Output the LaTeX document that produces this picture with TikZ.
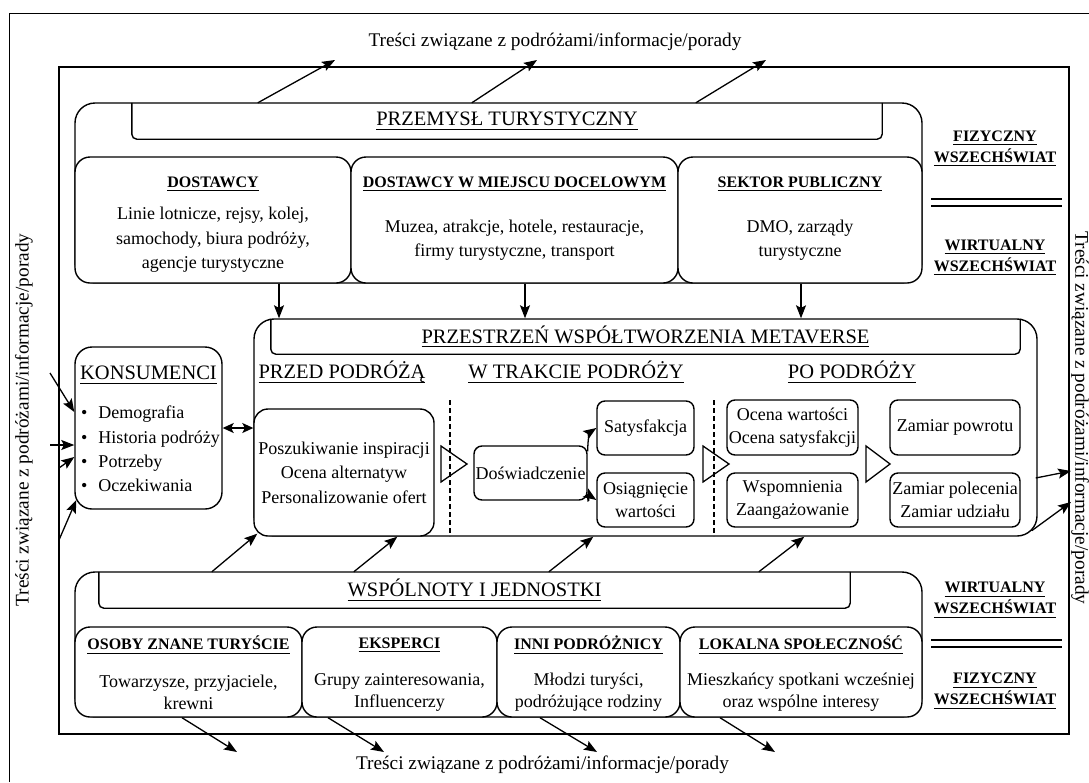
\documentclass[tikz,border=0pt]{standalone}
\usepackage{fontspec}
\setmainfont{Liberation Serif}
\usetikzlibrary{arrows.meta,positioning,calc}
\definecolor{MVInk}{HTML}{000000}
\newcommand{\undl}[1]{\leavevmode\setbox0=\hbox{#1}\rlap{\rule[-4.2pt]{\wd0}{1.3pt}}\box0}
\tikzset{
  flow/.style={-{Stealth[length=13pt,width=10pt,inset=2.5pt]},MVInk,line width=1.3pt},
  flowboth/.style={{Stealth[length=11pt,width=10pt,inset=2.5pt]}-{Stealth[length=11pt,width=10pt,inset=2.5pt]},MVInk,line width=1.3pt},
  frame/.style={draw=MVInk,line width=1.4pt},
  group/.style={draw=MVInk,line width=1.4pt,fill=white,rounded corners=20pt,inner sep=0pt},
  card/.style={draw=MVInk,line width=1.4pt,fill=white,rounded corners=15pt,inner sep=0pt},
  cell/.style={draw=MVInk,line width=1.4pt,fill=white,rounded corners=8pt,inner sep=0pt,align=center,
               font=\fontsize{18}{22.5}\selectfont},
  bar/.style={draw=MVInk,line width=1.4pt,rounded corners=5pt},
  head/.style={inner sep=0pt,font=\fontsize{20.5}{24}\selectfont},
  subhead/.style={inner sep=0pt,font=\fontsize{16}{21}\selectfont\bfseries,align=center},
  copy/.style={inner sep=0pt,font=\fontsize{18}{24.5}\selectfont,align=center},
  note/.style={inner sep=0pt,font=\fontsize{19.3}{23}\selectfont},
  divider/.style={draw=MVInk,line width=1.2pt,dash pattern=on 5pt off 3pt},
  stage/.style={draw=MVInk,line width=1.3pt,line join=miter},
  twin/.style={draw=MVInk,line width=1.3pt},
}

\begin{document}
\begin{tikzpicture}[x=1pt,y=-1pt]
  \useasboundingbox (0,0) rectangle (1089,782);
  \fill[white] (0,0) rectangle (1089,782);
  \draw[frame] (9.5,782) |- (1089,13.5);
  \draw[frame] (59,67) rectangle (1069,734);

  % notes round the frame
  \node[note] (topnote) at (555,42) {Treści związane z podróżami/informacje/porady};
  \node[note] (botnote) at (542.5,765) {Treści związane z podróżami/informacje/porady};
  \node[note,rotate=90] (leftnote) at (24,420) {Treści związane z podróżami/informacje/porady};
  \node[note,rotate=-90] (rightnote) at (1080,418) {Treści związane z podróżami/informacje/porady};

  % tourism industry
  \node[group,minimum width=847pt,minimum height=180pt] (industry) at (498.5,193) {};
  \node[head,minimum width=750pt,minimum height=36pt] (indbar) at (507,121) {\undl{PRZEMYSŁ TURYSTYCZNY}};
  \draw[bar] (indbar.north west) -- (indbar.south west) -- (indbar.south east) -- (indbar.north east);
  \node[card,minimum width=276pt,minimum height=126pt] (dost) at (213,220) {};
  \node[card,minimum width=327pt,minimum height=126pt] (dmd) at (514.5,220) {};
  \node[card,minimum width=244pt,minimum height=126pt] (publ) at (800,220) {};
  \node[subhead] (dosthead) at (213,184) {\undl{DOSTAWCY}};
  \node[copy] (dostcopy) at (213,240) {Linie lotnicze, rejsy, kolej,\\samochody, biura podróży,\\agencje turystyczne};
  \node[subhead] (dmdhead) at (514.5,184) {\undl{DOSTAWCY W MIEJSCU DOCELOWYM}};
  \node[copy] (dmdcopy) at (514.5,240) {Muzea, atrakcje, hotele, restauracje,\\firmy turystyczne, transport};
  \node[subhead] (publhead) at (800,184) {\undl{SEKTOR PUBLICZNY}};
  \node[copy] (publcopy) at (800,240) {DMO, zarządy\\turystyczne};

  % universe labels
  \node[subhead] (phys1) at (995,148.5) {\undl{FIZYCZNY}\\\undl{WSZECHŚWIAT}};
  \draw[twin] (931,199) -- (1062,199);
  \draw[twin] (931,206) -- (1062,206);
  \node[subhead] (virt1) at (995,257.5) {\undl{WIRTUALNY}\\\undl{WSZECHŚWIAT}};
  \node[subhead] (virt2) at (995,600) {\undl{WIRTUALNY}\\\undl{WSZECHŚWIAT}};
  \draw[twin] (931,640) -- (1062,640);
  \draw[twin] (931,647) -- (1062,647);
  \node[subhead] (phys2) at (995,691) {\undl{FIZYCZNY}\\\undl{WSZECHŚWIAT}};

  % metaverse co-creation space
  \node[group,minimum width=783pt,minimum height=217pt] (meta) at (645.5,427.5) {};
  \node[head,minimum width=749pt,minimum height=35pt] (metabar) at (645.5,336.5) {\undl{PRZESTRZEŃ WSPÓŁTWORZENIA METAVERSE}};
  \draw[bar] (metabar.north west) -- (metabar.south west) -- (metabar.south east) -- (metabar.north east);
  \node[head] (before) at (342,372) {\undl{PRZED PODRÓŻĄ}};
  \node[head] (during) at (576,372) {\undl{W TRAKCIE PODRÓŻY}};
  \node[head] (after) at (852,372) {\undl{PO PODRÓŻY}};
  \draw[divider] (450,400) -- (450,536);
  \draw[divider] (714,400) -- (714,536);
  \node[card,rounded corners=14pt,minimum width=180pt,minimum height=127pt,align=center,
        font=\fontsize{18}{24.5}\selectfont] (search) at (344,472.5)
        {Poszukiwanie inspiracji\\Ocena alternatyw\\Personalizowanie ofert};
  \node[cell,minimum width=113pt,minimum height=54pt] (dosw) at (530.5,473) {Doświadczenie};
  \node[cell,minimum width=97pt,minimum height=54pt] (satys) at (645.5,428) {Satysfakcja};
  \node[cell,minimum width=97pt,minimum height=54pt] (osiag) at (645.5,500) {Osiągnięcie\\wartości};
  \node[cell,minimum width=131pt,minimum height=55pt] (ocena) at (792.5,427.5) {Ocena wartości\\Ocena satysfakcji};
  \node[cell,minimum width=131pt,minimum height=54pt] (wspom) at (792.5,500) {Wspomnienia\\Zaangażowanie};
  \node[cell,minimum width=130pt,minimum height=55pt] (powrot) at (955,427.5) {Zamiar powrotu};
  \node[cell,minimum width=130pt,minimum height=54pt] (polec) at (955,500) {Zamiar polecenia\\Zamiar udziału};
  \draw[stage] (441,446) -- (467,464) -- (441,482) -- cycle;
  \draw[stage] (703,446) -- (729,464) -- (703,482) -- cycle;
  \draw[stage] (866,446) -- (890,464) -- (866,482) -- cycle;

  % consumers
  \node[card,rounded corners=17pt,minimum width=147pt,minimum height=162pt] (kons) at (148.5,428) {};
  \node[head] (konshead) at (148.5,375) {\undl{KONSUMENCI}};
  \node[inner sep=0pt,anchor=west,align=left,font=\fontsize{18}{24.3}\selectfont] (konslist) at (81,449)
    {\textbullet\hspace{11pt}Demografia\\\textbullet\hspace{11pt}Historia podróży\\
     \textbullet\hspace{11pt}Potrzeby\\\textbullet\hspace{11pt}Oczekiwania};

  % communities and individuals
  \node[group,minimum width=847pt,minimum height=145pt] (comm) at (498.5,644.5) {};
  \node[head,minimum width=751pt,minimum height=36pt] (combar) at (474.5,590) {\undl{WSPÓLNOTY I JEDNOSTKI}};
  \draw[bar] (combar.north west) -- (combar.south west) -- (combar.south east) -- (combar.north east);
  \node[card,minimum width=227pt,minimum height=90pt] (osoby) at (188.5,672) {};
  \node[card,minimum width=195pt,minimum height=90pt] (eksp) at (399.5,672) {};
  \node[card,minimum width=183pt,minimum height=90pt] (inni) at (588.5,672) {};
  \node[card,minimum width=242pt,minimum height=90pt] (lokal) at (801,672) {};
  \node[subhead] (osobyhead) at (188.5,645) {\undl{OSOBY ZNANE TURYŚCIE}};
  \node[copy,font=\fontsize{18}{22}\selectfont] (osobycopy) at (188.5,692.5) {Towarzysze, przyjaciele,\\krewni};
  \node[subhead] (eksphead) at (399.5,645) {\undl{EKSPERCI}};
  \node[copy,font=\fontsize{18}{22}\selectfont] (ekspcopy) at (399.5,692.5) {Grupy zainteresowania,\\Influencerzy};
  \node[subhead] (innihead) at (588.5,645) {\undl{INNI PODRÓŻNICY}};
  \node[copy,font=\fontsize{18}{22}\selectfont] (innicopy) at (588.5,692.5) {Młodzi turyści,\\podróżujące rodziny};
  \node[subhead] (lokalhead) at (801,645) {\undl{LOKALNA SPOŁECZNOŚĆ}};
  \node[copy,font=\fontsize{18}{22}\selectfont] (lokalcopy) at (801,692.5) {Mieszkańcy spotkani wcześniej\\oraz wspólne interesy};

  % free ends of the content flows
  \coordinate (up1) at (335,60);
  \coordinate (up2) at (537,60);
  \coordinate (up3) at (766,60);
  \coordinate (in1) at (50,373);
  \coordinate (in2) at (50,445);
  \coordinate (in3) at (59,468);
  \coordinate (in4) at (59,540);
  \coordinate (out1) at (1071,471);
  \coordinate (out2) at (1071,502);
  \coordinate (down1) at (237,752);
  \coordinate (down2) at (384,752);
  \coordinate (down3) at (597,752);
  \coordinate (down4) at (775,752);

  \draw[flow] ([xshift=126pt]indbar.north west) -- (up1);
  \draw[flow] ([xshift=340pt]indbar.north west) -- (up2);
  \draw[flow] ([xshift=564pt]indbar.north west) -- (up3);
  \draw[flow] ([xshift=66pt]dost.south) -- ([xshift=66pt]dost.south |- meta.north);
  \draw[flow] ([xshift=10.5pt]dmd.south) -- ([xshift=10.5pt]dmd.south |- meta.north);
  \draw[flow] ([xshift=1pt]publ.south) -- ([xshift=1pt]publ.south |- meta.north);
  \draw[flow] (in1) -- ([yshift=16pt]kons.west);
  \draw[flow] (in2) -- ([yshift=-17pt]kons.west);
  \draw[flow] (in3) -- ([yshift=-29pt]kons.west);
  \draw[flow] (in4) -- ([shift={(2,72)}]kons.west);
  \draw[flowboth] (kons.east) -- (kons.east -| search.west);
  \draw[flow] ([yshift=-6pt]dosw.north east) .. controls +(0,-14) and +(-6,4) .. (satys.west);
  \draw[flow] ([yshift=6pt]dosw.south east) .. controls +(0,14) and +(-6,-4) .. (osiag.west);
  \draw[flow] ([shift={(-2,50.5)}]meta.east) -- (out1);
  \draw[flow] ([shift={(-6,-6)}]meta.south east) -- (out2);
  \draw[flow] ([xshift=113pt]combar.north west) -- ([shift={(4,-3)}]meta.south west);
  \draw[flow] ([xshift=255pt]combar.north west) -- ([xshift=144pt]meta.south west);
  \draw[flow] ([xshift=450pt]combar.north west) -- ([xshift=340pt]meta.south west);
  \draw[flow] ([xshift=660pt]combar.north west) -- ([xshift=551pt]meta.south west);
  \draw[flow] ([xshift=-6.5pt]osoby.south) -- (down1);
  \draw[flow] ([xshift=-71.5pt]eksp.south) -- (down2);
  \draw[flow] ([xshift=-48.5pt]inni.south) -- (down3);
  \draw[flow] ([xshift=-81pt]lokal.south) -- (down4);
\end{tikzpicture}
\end{document}
